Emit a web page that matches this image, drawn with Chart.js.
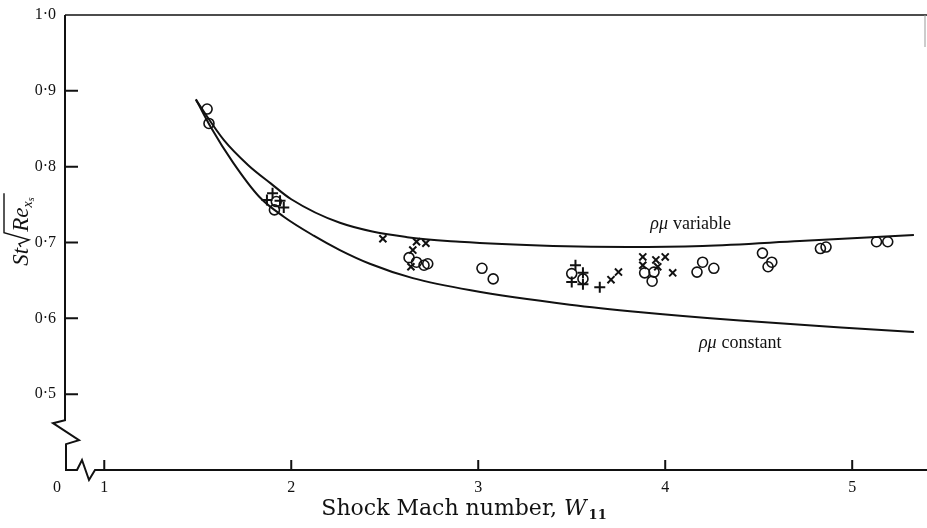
<!DOCTYPE html>
<html>
<head>
<meta charset="utf-8">
<script src="https://cdn.jsdelivr.net/npm/chart.js@4.4.0/dist/chart.umd.min.js"></script>
<style>
  html, body { margin: 0; padding: 0; background: #fff; }
</style>
</head>
<body>
<canvas id="stanton" width="927" height="528"></canvas>
<script>
// theory curves
const variableX = [1.49, 1.64, 1.77, 1.89, 2.0, 2.26, 2.62, 2.9, 3.4, 3.8, 4.2, 4.72, 5.33];
const variableY = [0.888, 0.835, 0.802, 0.778, 0.757, 0.726, 0.707, 0.701, 0.6955, 0.694, 0.6955, 0.702, 0.71];
const constantX = [1.49, 1.57, 1.69, 1.83, 1.96, 2.12, 2.26, 2.42, 2.65, 2.96, 3.49, 3.87, 4.4, 4.94, 5.33];
const constantY = [0.889, 0.852, 0.805, 0.76, 0.734, 0.709, 0.69, 0.672, 0.653, 0.637, 0.618, 0.608, 0.597, 0.588, 0.582];

// measurements
const circleX = [1.55, 1.56, 1.92, 1.91, 2.63, 2.67, 2.71, 2.73, 3.02, 3.08, 3.5, 3.56, 3.89, 3.94, 3.93,
  4.17, 4.2, 4.26, 4.52, 4.57, 4.55, 4.83, 4.86, 5.13, 5.19];
const circleY = [0.876, 0.857, 0.754, 0.743, 0.68, 0.674, 0.67, 0.672, 0.666, 0.652, 0.659, 0.652, 0.66, 0.661, 0.649,
  0.661, 0.674, 0.666, 0.686, 0.674, 0.668, 0.692, 0.694, 0.701, 0.701];
const plusX = [1.9, 1.87, 1.94, 1.96, 3.52, 3.56, 3.5, 3.56, 3.65];
const plusY = [0.765, 0.756, 0.755, 0.746, 0.67, 0.66, 0.648, 0.645, 0.641];
const crossX = [2.49, 2.65, 2.67, 2.72, 2.64, 3.71, 3.75, 3.88, 3.95, 4.0, 3.88, 3.96, 4.04];
const crossY = [0.705, 0.69, 0.701, 0.699, 0.668, 0.651, 0.661, 0.681, 0.677, 0.681, 0.67, 0.668, 0.66];

// axes
const xTicks = [1, 2, 3, 4, 5];
const xTickLabels = ["1", "2", "3", "4", "5"];
const yTicks = [0.5, 0.6, 0.7, 0.8, 0.9, 1.0];
const yTickLabels = ["0·5", "0·6", "0·7", "0·8", "0·9", "1·0"];

const ink = "#111";
const serif = "'Liberation Serif', 'DejaVu Serif', serif";
const wide = "'DejaVu Serif', serif";

const pts = (xs, ys) => xs.map((x, i) => ({ x: x, y: ys[i] }));

// axes, breaks, ticks and lettering
const paper = {
  id: "paper",
  afterDraw(chart) {
    const { ctx, chartArea: a, scales: { x, y } } = chart;
    ctx.save();
    ctx.strokeStyle = ink;
    ctx.fillStyle = ink;
    ctx.lineWidth = 2;
    ctx.lineJoin = "miter";

    const y05 = y.getPixelForValue(0.5);
    ctx.beginPath();
    ctx.moveTo(a.left, a.top);
    ctx.lineTo(a.left, y05 + 26);
    ctx.lineTo(a.left - 12, y05 + 29);
    ctx.lineTo(a.left + 14, y05 + 46);
    ctx.lineTo(a.left + 1, y05 + 50);
    ctx.lineTo(a.left + 1, a.bottom);
    ctx.lineTo(a.left + 12, a.bottom);
    ctx.lineTo(a.left + 17, a.bottom - 10);
    ctx.lineTo(a.left + 24, a.bottom + 10);
    ctx.lineTo(a.left + 30, a.bottom);
    ctx.lineTo(a.right, a.bottom);
    ctx.stroke();

    // top frame
    ctx.lineWidth = 1.6;
    ctx.beginPath();
    ctx.moveTo(a.left, a.top);
    ctx.lineTo(a.right, a.top);
    ctx.stroke();
    ctx.strokeStyle = "#999";
    ctx.lineWidth = 1;
    ctx.beginPath();
    ctx.moveTo(a.right - 2, a.top);
    ctx.lineTo(a.right - 2, a.top + 32);
    ctx.stroke();

    // ticks
    ctx.strokeStyle = ink;
    ctx.lineWidth = 2;
    ctx.beginPath();
    yTicks.forEach(v => {
      if (v >= 1) return;
      const py = y.getPixelForValue(v);
      ctx.moveTo(a.left, py);
      ctx.lineTo(a.left + 13, py);
    });
    xTicks.forEach(v => {
      const px = x.getPixelForValue(v);
      ctx.moveTo(px, a.bottom);
      ctx.lineTo(px, a.bottom - 10);
    });
    ctx.stroke();

    ctx.font = "16px " + serif;
    ctx.textAlign = "right";
    ctx.textBaseline = "middle";
    yTicks.forEach((v, i) => {
      ctx.fillText(yTickLabels[i], a.left - 9, y.getPixelForValue(v));
    });
    ctx.textAlign = "center";
    ctx.textBaseline = "alphabetic";
    xTicks.forEach((v, i) => {
      ctx.fillText(xTickLabels[i], x.getPixelForValue(v), a.bottom + 22);
    });
    ctx.fillText("0", a.left - 8, a.bottom + 22);

    // curve labels
    ctx.textAlign = "left";
    const curveLabel = (txt, px, py) => {
      ctx.font = "italic 18px " + serif;
      ctx.fillText("ρμ", px, py);
      const w = ctx.measureText("ρμ").width + 5;
      ctx.font = "18px " + serif;
      ctx.fillText(txt, px + w, py);
    };
    curveLabel("variable", x.getPixelForValue(3.92), y.getPixelForValue(0.718));
    curveLabel("constant", x.getPixelForValue(4.18), y.getPixelForValue(0.561));

    // x title
    ctx.font = "22px " + wide;
    const t1 = "Shock Mach number, ";
    const w1 = ctx.measureText(t1).width;
    ctx.font = "italic 22px " + wide;
    const w2 = ctx.measureText("W").width;
    ctx.font = "bold 13px " + wide;
    const w3 = ctx.measureText("11").width;
    const sx = 464 - (w1 + w2 + w3 + 2) / 2;
    const base = a.bottom + 45;
    ctx.font = "22px " + wide;
    ctx.fillText(t1, sx, base);
    ctx.font = "italic 22px " + wide;
    ctx.fillText("W", sx + w1, base);
    ctx.font = "bold 13px " + wide;
    ctx.fillText("11", sx + w1 + w2 + 2, base + 4);

    // y title, rotated
    ctx.translate(20, 230);
    ctx.rotate(-Math.PI / 2);
    ctx.font = "italic 23px " + serif;
    const sw = ctx.measureText("St").width;
    const rw = ctx.measureText("Re").width;
    ctx.font = "italic 14px " + serif;
    const xw = ctx.measureText("x").width;
    const total = sw + 15 + rw + xw + 8;
    let cx = -total / 2;
    ctx.font = "italic 23px " + serif;
    ctx.fillText("St", cx, 8);
    cx += sw + 1;
    ctx.lineWidth = 1.4;
    ctx.beginPath();
    ctx.moveTo(cx, 1);
    ctx.lineTo(cx + 3, -1);
    ctx.lineTo(cx + 7, 9);
    ctx.lineTo(cx + 14, -16);
    ctx.lineTo(cx + 14 + rw + xw + 9, -16);
    ctx.stroke();
    cx += 15;
    ctx.fillText("Re", cx, 8);
    cx += rw;
    ctx.font = "italic 14px " + serif;
    ctx.fillText("x", cx, 12);
    ctx.font = "italic 10px " + serif;
    ctx.fillText("s", cx + xw, 14);
    ctx.restore();
  }
};

const lineStyle = {
  type: "line",
  showLine: true,
  borderColor: ink,
  borderWidth: 2,
  pointRadius: 0,
  cubicInterpolationMode: "monotone",
  fill: false,
  order: 2
};

new Chart(document.getElementById("stanton"), {
  type: "scatter",
  data: {
    datasets: [
      Object.assign({ label: "ρμ variable", data: pts(variableX, variableY) }, lineStyle),
      Object.assign({ label: "ρμ constant", data: pts(constantX, constantY) }, lineStyle),
      {
        label: "circles",
        data: pts(circleX, circleY),
        pointStyle: "circle",
        pointRadius: 5,
        backgroundColor: "rgba(255,255,255,0)",
        borderColor: ink,
        borderWidth: 1.6,
        order: 1
      },
      {
        label: "plus",
        data: pts(plusX, plusY),
        pointStyle: "cross",
        pointRadius: 5.5,
        borderColor: ink,
        borderWidth: 2,
        order: 1
      },
      {
        label: "cross",
        data: pts(crossX, crossY),
        pointStyle: "crossRot",
        pointRadius: 5,
        borderColor: ink,
        borderWidth: 2,
        order: 1
      }
    ]
  },
  options: {
    responsive: false,
    animation: false,
    layout: { autoPadding: false, padding: { left: 65, top: 15, right: 0, bottom: 58 } },
    scales: {
      x: { type: "linear", min: 0.79, max: 5.4, display: false },
      y: { type: "linear", min: 0.4, max: 1.0, display: false }
    },
    plugins: {
      legend: { display: false },
      tooltip: { enabled: false }
    }
  },
  plugins: [paper]
});
</script>
</body>
</html>
